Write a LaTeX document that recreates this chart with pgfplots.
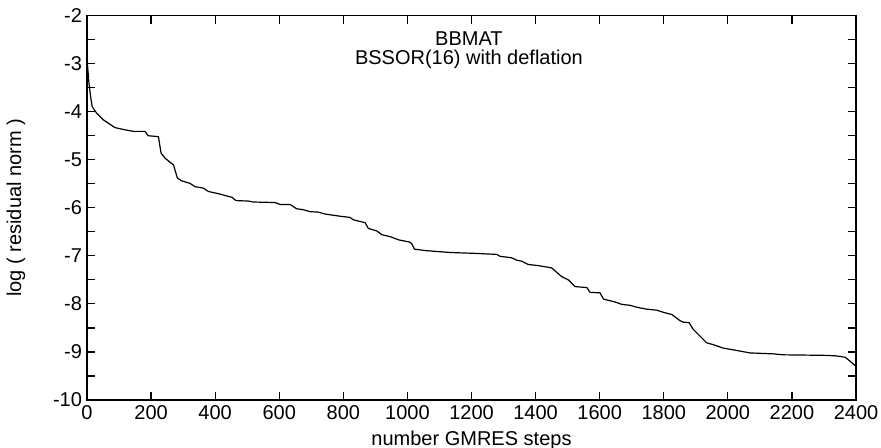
\documentclass[border=0pt]{standalone}
\usepackage{pgfplots}
\pgfplotsset{compat=1.18}
\usepackage{fontspec}
\setmainfont{Liberation Sans}

\begin{document}
\begin{tikzpicture}
\useasboundingbox (-43.5pt,-24pt) rectangle (397pt,200pt);
\begin{axis}[
    at={(0,0)}, anchor=south west,
    scale only axis, width=384.5pt, height=192.2pt,
    xmin=0, xmax=2400, ymin=-10, ymax=-2,
    xtick={0,200,...,2400},
    ytick={-10,-9,...,-2},
    yticklabels={-10,-9,-8,-7,-6,-5,-4,-3,-2},
    minor ytick={-9.5,-8.5,...,-2.5},
    tick align=inside,
    major tick length=4pt, minor tick length=4pt,
    tick style={black, line width=0.6pt},
    axis line style={line width=0.6pt},
    ticklabel style={font=\fontsize{10}{12}\selectfont},
    /pgf/number format/assume math mode=true,
    /pgf/number format/1000 sep={},
    xticklabel style={yshift=1pt},
    yticklabel style={xshift=1pt},
    xlabel={number GMRES steps},
    ylabel={log ( residual norm )},
    label style={font=\fontsize{10}{12}\selectfont},
    xlabel style={yshift=1pt},
    ylabel style={yshift=7pt},
]
\addplot[black, line width=0.6pt] coordinates {
(0,-2.89) (6,-3.40) (12,-3.72) (16,-3.89) (30,-4.03) (51,-4.17) (87,-4.33)
(113,-4.37) (145,-4.41) (181,-4.41) (191,-4.50) (223,-4.52) (231,-4.86)
(244,-4.97) (270,-5.11) (282,-5.38) (296,-5.44) (321,-5.49) (337,-5.56)
(363,-5.59) (379,-5.66) (412,-5.71) (440,-5.76) (452,-5.78) (465,-5.85)
(504,-5.86) (519,-5.88) (587,-5.89) (602,-5.93) (634,-5.93) (654,-6.02)
(675,-6.04) (696,-6.08) (722,-6.09) (743,-6.13) (774,-6.16) (795,-6.18)
(821,-6.20) (831,-6.25) (868,-6.31) (878,-6.43) (904,-6.48) (920,-6.56)
(946,-6.60) (974,-6.67) (1005,-6.71) (1013,-6.74) (1022,-6.86) (1055,-6.89)
(1133,-6.93) (1216,-6.95) (1279,-6.97) (1289,-7.01) (1325,-7.04) (1341,-7.09)
(1356,-7.11) (1377,-7.18) (1405,-7.20) (1450,-7.25) (1481,-7.43) (1502,-7.50)
(1523,-7.64) (1560,-7.66) (1570,-7.76) (1601,-7.77) (1612,-7.90) (1648,-7.96)
(1669,-8.01) (1695,-8.03) (1716,-8.07) (1747,-8.11) (1778,-8.13) (1801,-8.18)
(1825,-8.22) (1851,-8.35) (1861,-8.38) (1879,-8.39) (1892,-8.53) (1913,-8.67)
(1934,-8.81) (1955,-8.85) (1986,-8.92) (2028,-8.97) (2069,-9.02) (2142,-9.04)
(2173,-9.06) (2298,-9.07) (2335,-9.08) (2366,-9.11) (2381,-9.19) (2400,-9.30)
};
\node[font=\fontsize{10}{12}\selectfont, align=center] at (axis cs:1192,-2.47) {BBMAT};
\node[font=\fontsize{10}{12}\selectfont, align=center] at (axis cs:1192,-2.91) {BSSOR(16) with deflation};
\end{axis}
\end{tikzpicture}
\end{document}
